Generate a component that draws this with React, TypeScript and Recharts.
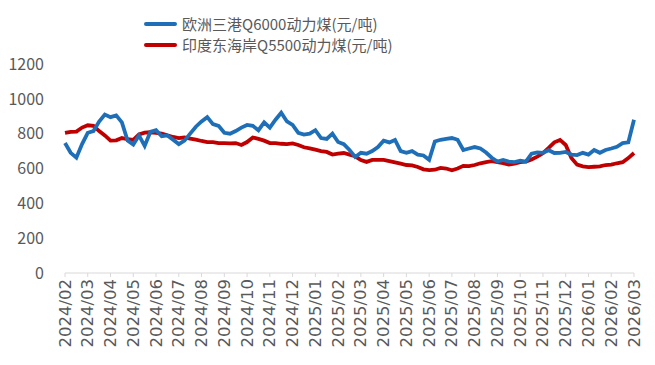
import * as React from 'react'
import { LineChart, Line, XAxis, YAxis } from 'recharts'

const MONTHS = [
  '2024/02', '2024/03', '2024/04', '2024/05', '2024/06', '2024/07', '2024/08', '2024/09', '2024/10',
  '2024/11', '2024/12', '2025/01', '2025/02', '2025/03', '2025/04', '2025/05', '2025/06', '2025/07',
  '2025/08', '2025/09', '2025/10', '2025/11', '2025/12', '2026/01', '2026/02', '2026/03',
]

// weekly readings, 4 per month
const EUROPE = [
  746, 690, 662, 740, 805, 815, 870, 910, 895, 905, 865, 760, 738, 790, 730, 810, 820, 785, 790, 765,
  740, 760, 800, 840, 870, 895, 855, 845, 805, 800, 815, 835, 850, 845, 820, 865, 835, 880, 920, 870,
  850, 805, 795, 800, 820, 775, 770, 800, 752, 740, 706, 666, 690, 685, 700, 723, 760, 750, 764, 700,
  690, 700, 680, 675, 650, 755, 765, 770, 775, 765, 706, 715, 723, 715, 692, 662, 640, 649, 640, 637,
  645, 640, 685, 692, 690, 705, 689, 690, 695, 680, 677, 690, 680, 706, 690, 706, 715, 725, 746, 750,
  880,
]

const INDIA = [
  804, 810, 812, 835, 848, 845, 815, 790, 760, 762, 775, 768, 764, 795, 806, 808, 804, 800, 790, 781,
  775, 778, 772, 766, 758, 752, 752, 746, 746, 744, 746, 735, 752, 778, 770, 760, 746, 746, 742, 740,
  744, 735, 722, 716, 708, 700, 695, 680, 685, 689, 680, 670, 648, 638, 649, 649, 649, 642, 635, 628,
  620, 618, 609, 595, 591, 593, 603, 600, 590, 600, 615, 614, 620, 630, 637, 642, 636, 631, 622, 628,
  637, 640, 652, 668, 688, 718, 750, 764, 735, 660, 622, 612, 608, 610, 612, 620, 622, 630, 636, 660,
  689,
]

const SERIES_NAMES = ['欧洲三港Q6000动力煤(元/吨)', '印度东海岸Q5500动力煤(元/吨)']
const COLORS = ['#1F6FB8', '#C00000']

const data = EUROPE.map((v, i) => ({ idx: i, europe: v, india: INDIA[i] }))
const monthTicks = MONTHS.map((_, i) => i * 4)

const FONT = '"Noto Sans CJK SC", "Noto Sans", sans-serif'
const TEXT = '#595959'

function MonthTick({ x, y, payload }: any) {
  const label = MONTHS[Math.round(payload.value / 4)] ?? ''
  return (
    <text
      x={x}
      y={y}
      transform={`rotate(-90 ${x} ${y})`}
      textAnchor="end"
      dominantBaseline="central"
      fontSize={16.5}
      fontFamily='"DejaVu Sans", sans-serif'
      fill={TEXT}
    >
      {label}
    </text>
  )
}

function ChartLegend() {
  return (
    <div style={{ position: 'absolute', left: 144, top: 13, fontFamily: FONT, fontSize: 15, color: TEXT, lineHeight: '21px' }}>
      {SERIES_NAMES.map((name, i) => (
        <div key={name} style={{ display: 'flex', alignItems: 'center', height: 21 }}>
          <span style={{ display: 'inline-block', width: 33, height: 4, borderRadius: 2, background: COLORS[i], marginRight: 5 }} />
          <span>{name}</span>
        </div>
      ))}
    </div>
  )
}

export default function App() {
  return (
    <div style={{ position: 'fixed', left: 0, top: 0, width: 655, height: 365, background: '#fff' }}>
      <ChartLegend />
      <LineChart width={655} height={365} data={data} margin={{ top: 64, right: 21, left: 0, bottom: 12 }}>
        <XAxis
          dataKey="idx"
          type="number"
          domain={[0, 100]}
          ticks={monthTicks}
          interval={0}
          tick={<MonthTick />}
          tickSize={4}
          tickMargin={2}
          height={80}
          stroke="#D9D9D9"
        />
        <YAxis
          domain={[0, 1200]}
          ticks={[0, 200, 400, 600, 800, 1000, 1200]}
          width={65}
          axisLine={false}
          tickLine={false}
          tickMargin={15}
          tick={{ fontSize: 16, fontFamily: FONT, fill: TEXT }}
        />
        <Line type="linear" dataKey="india" stroke={COLORS[1]} strokeWidth={3.8} dot={false} isAnimationActive={false} />
        <Line type="linear" dataKey="europe" stroke={COLORS[0]} strokeWidth={3.8} dot={false} isAnimationActive={false} />
      </LineChart>
    </div>
  )
}
